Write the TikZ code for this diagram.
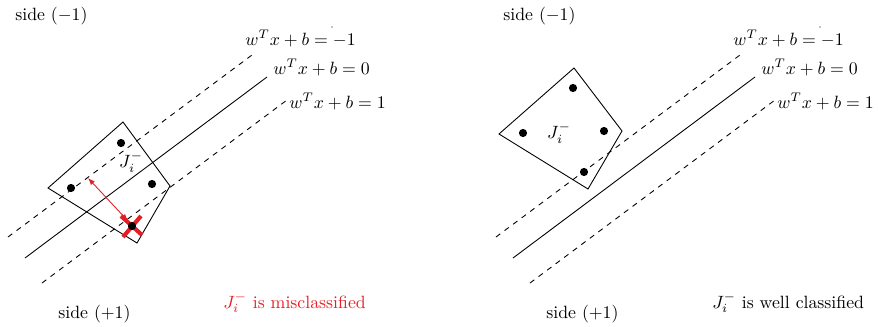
\documentclass[tikz,border=0pt]{standalone}
\usetikzlibrary{arrows.meta}
\definecolor{mred}{RGB}{228,30,36}
\begin{document}
\begin{tikzpicture}[x=0.5625pt,y=-0.5625pt,
  hyper/.style={line width=0.5pt},
  margin/.style={line width=0.5pt,dashed},
  dotpt/.style={circle,fill=black,inner sep=0pt,minimum size=4.6pt},
  speck/.style={circle,fill=black,inner sep=0pt,minimum size=0.6pt},
  lbl/.style={anchor=base west,inner sep=0pt},
  quad/.style={line width=0.5pt},
  cross/.style={mred,line width=2.3pt}]
\useasboundingbox (0,0) rectangle (878,327);

% ---------- left panel ----------
\node[lbl] (Lsm) at (15,20) {side $(-1)$};
\node[lbl] (Lsp) at (58,318) {side $(+1)$};
\node[lbl] (Le1) at (245,45) {$w^Tx+b=-1$};
\node[lbl] (Le0) at (273,74) {$w^Tx+b=0$};
\node[lbl] (Le2) at (289,108) {$w^Tx+b=1$};
\node[speck] (Lspk) at (332,27) {};
\coordinate (Lu1) at (8,237);  \coordinate (Lu2) at (252,55);
\coordinate (Lh1) at (25,258); \coordinate (Lh2) at (267,77);
\coordinate (Ll1) at (42,283); \coordinate (Ll2) at (287,100);
\draw[margin] (Lu1) -- (Lu2);
\draw[hyper] (Lh1) -- (Lh2);
\draw[margin] (Ll1) -- (Ll2);
\coordinate (Lq1) at (123,122); \coordinate (Lq2) at (170,186);
\coordinate (Lq3) at (137,243); \coordinate (Lq4) at (48,188);
\draw[quad] (Lq1) -- (Lq2) -- (Lq3) -- (Lq4) -- cycle;
\coordinate (La1) at (88,178);
\coordinate (La2) at (128,221);
\draw[mred,line width=0.5pt,{Latex[length=4pt,width=3pt]}-{Latex[length=4pt,width=3pt]}] (La1) -- (La2);
\coordinate (Lc1) at (121,216); \coordinate (Lc2) at (142,235);
\coordinate (Lc3) at (123,237); \coordinate (Lc4) at (141,216);
\draw[cross] (Lc1) -- (Lc2);
\draw[cross] (Lc3) -- (Lc4);
\node[dotpt] (Ld1) at (121,143) {};
\node[dotpt] (Ld2) at (71,188) {};
\node[dotpt] (Ld3) at (152,184) {};
\node[dotpt] (Ld4) at (132,226) {};
\node (LJ) at (131,162) {$J_i^-$};
\node[lbl,text=mred] (Lmis) at (223,308) {$J_i^-$ is misclassified};

% ---------- right panel ----------
\node[lbl] (Rsm) at (503,20) {side $(-1)$};
\node[lbl] (Rsp) at (546,318) {side $(+1)$};
\node[lbl] (Re1) at (733,45) {$w^Tx+b=-1$};
\node[lbl] (Re0) at (761,74) {$w^Tx+b=0$};
\node[lbl] (Re2) at (777,108) {$w^Tx+b=1$};
\node[speck] (Rspk) at (820,27) {};
\coordinate (Ru1) at (496,237); \coordinate (Ru2) at (740,55);
\coordinate (Rh1) at (513,258); \coordinate (Rh2) at (755,77);
\coordinate (Rl1) at (530,283); \coordinate (Rl2) at (775,100);
\draw[margin] (Ru1) -- (Ru2);
\draw[hyper] (Rh1) -- (Rh2);
\draw[margin] (Rl1) -- (Rl2);
\coordinate (Rq1) at (574,68);  \coordinate (Rq2) at (622,131);
\coordinate (Rq3) at (588,189); \coordinate (Rq4) at (499,134);
\draw[quad] (Rq1) -- (Rq2) -- (Rq3) -- (Rq4) -- cycle;
\node[dotpt] (Rd1) at (573,88) {};
\node[dotpt] (Rd2) at (523,133) {};
\node[dotpt] (Rd3) at (604,131) {};
\node[dotpt] (Rd4) at (584,172) {};
\node (RJ) at (559,133) {$J_i^-$};
\node[lbl] (Rwell) at (712,308) {$J_i^-$ is well classified};
\end{tikzpicture}
\end{document}
